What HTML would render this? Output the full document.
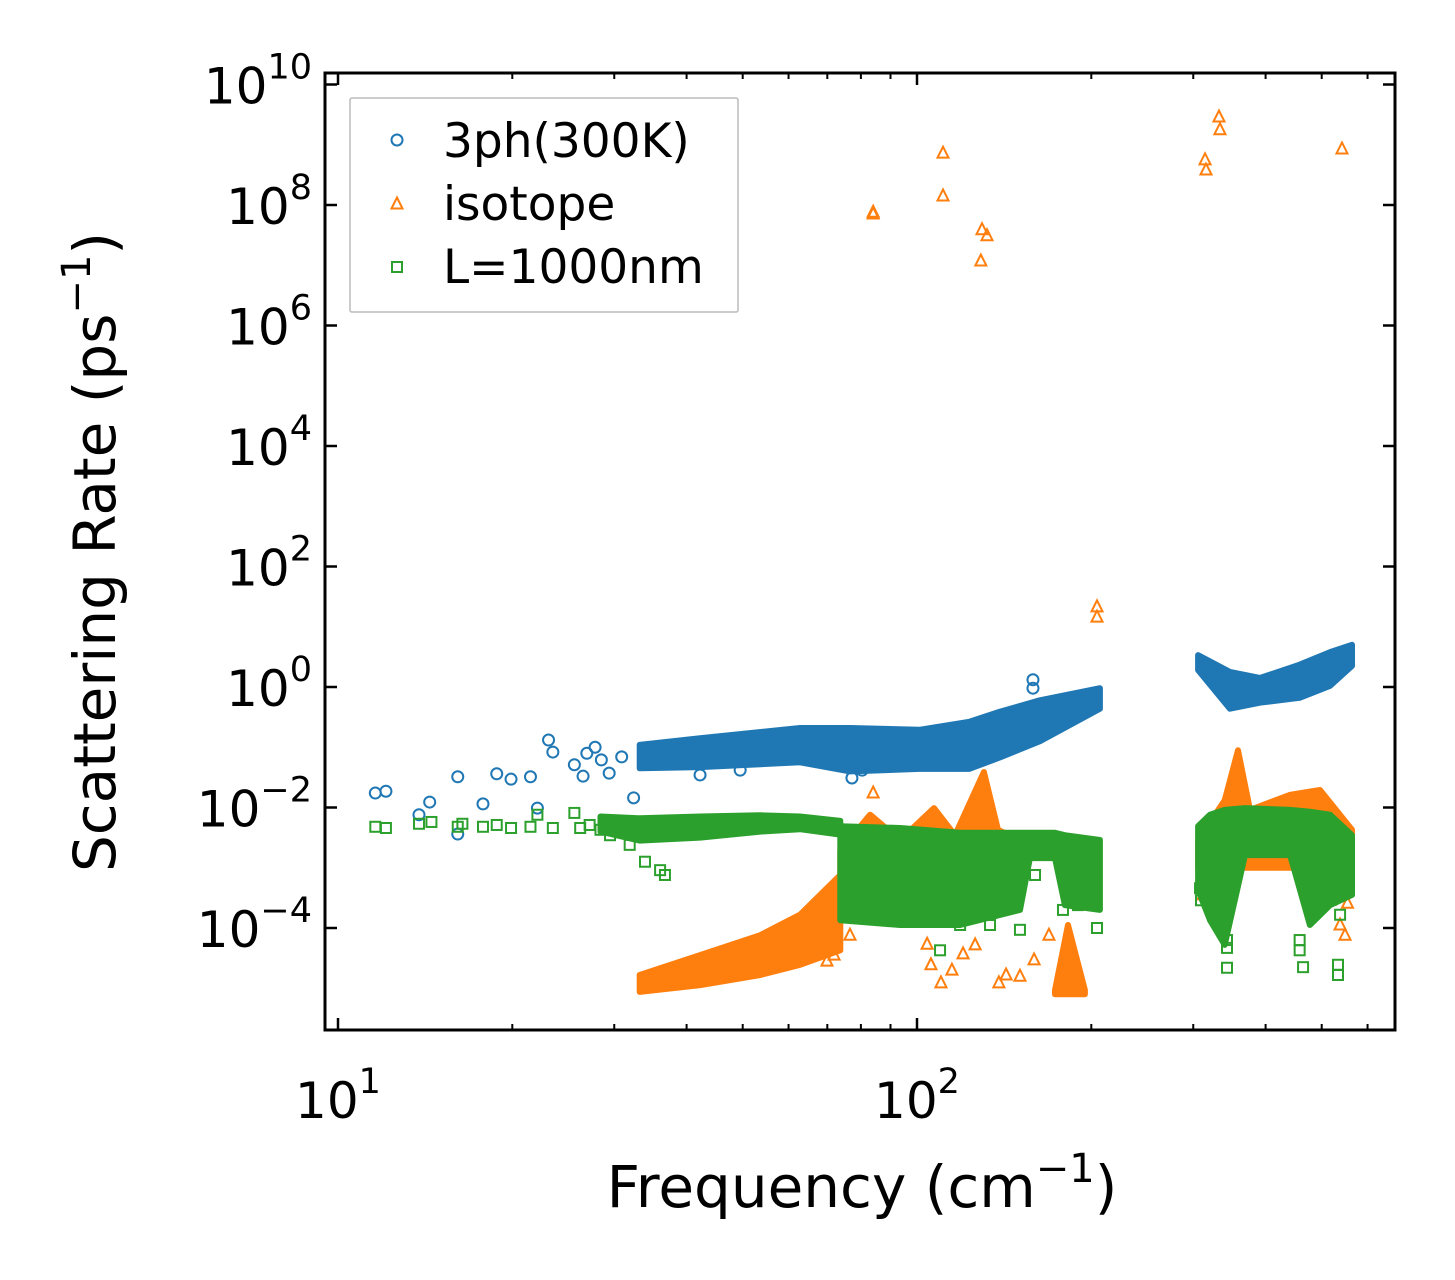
<!DOCTYPE html>
<html><head><meta charset="utf-8"><style>
html,body{margin:0;padding:0;background:#fff;}
svg{display:block;font-family:"DejaVu Sans","Liberation Sans",sans-serif;}
</style></head><body>
<svg id="chart" width="1455" height="1280" viewBox="0 0 1455 1280" xmlns="http://www.w3.org/2000/svg">
<defs><clipPath id="clip"><rect x="325" y="73" width="1070" height="957"/></clipPath></defs>
<rect x="0" y="0" width="1455" height="1280" fill="#fff"/>
<g id="marks" clip-path="url(#clip)"></g>
<g id="axes"></g>
</svg>
<script>
// ---- data (frequency in cm^-1, rates as log10(ps^-1)) ----
const blueBand1Freq=[33.2,42.2,62.8,76.6,101,123,139,163,207];
const blueBand1Hi=[-0.96,-0.85,-0.68,-0.68,-0.71,-0.58,-0.41,-0.22,-0.02];
const blueBand1Lo=[-1.35,-1.33,-1.25,-1.40,-1.36,-1.36,-1.17,-0.90,-0.36];
const blueBand2Freq=[305.8,347,391,458,517,564];
const blueBand2Hi=[0.53,0.25,0.15,0.37,0.58,0.70];
const blueBand2Lo=[0.28,-0.36,-0.26,-0.18,0.02,0.35];
const bluePtFreq=[11.6,12.1,13.8,14.4,16.1,16.1,17.8,18.8,19.9,21.5,22.1,23.1,23.5,25.6,26.5,26.9,27.8,28.5,29.4,30.9,32.4,158.6,158.6,77.2,80.4,42.2,49.5];
const bluePtRate=[-1.76,-1.73,-2.12,-1.91,-1.49,-2.44,-1.94,-1.44,-1.53,-1.49,-2.01,-0.88,-1.08,-1.29,-1.48,-1.10,-1.00,-1.21,-1.43,-1.16,-1.84,0.12,-0.02,-1.51,-1.38,-1.46,-1.38];

const orangeBandAFreq=[33.2,42.2,53.6,62.8,73.7];
const orangeBandAHi=[-4.78,-4.45,-4.12,-3.78,-3.12];
const orangeBandALo=[-5.06,-4.95,-4.78,-4.61,-4.37];
const orangeBandBFreq=[73.7,83.0,93.5,107,116.3,130.5,138,150.6];
const orangeBandBHi=[-2.71,-2.12,-2.54,-2.01,-2.46,-1.41,-2.37,-2.54];
const orangeBandBLo=[-3.3,-3.3,-3.3,-3.3,-3.3,-3.3,-3.3,-3.3];
const orangeBandCFreq=[173.1,182.3,195];
const orangeBandCHi=[-5.03,-3.95,-5.03];
const orangeBandCLo=[-5.1,-5.1,-5.1];
const orangeBandDFreq=[305.8,340,358.5,376,441,496.6,564];
const orangeBandDHi=[-2.54,-1.88,-1.05,-2.04,-1.79,-1.71,-2.37];
const orangeBandDLo=[-3.0,-3.0,-3.0,-3.0,-3.0,-3.0,-3.0];
const orangePtFreq=[84.0,84.0,110.9,110.9,129.5,132.1,128.9,204.6,204.6,314.4,315.6,332.3,333.6,542,84.0,554,69.9,71.9,76.6,83.0,94.2,97.3,104.1,105.7,110.0,114.9,120.1,126.0,138.5,142.5,150.6,159.3,169.0,144.7,88.1,118.7,311.9,537.9,548.6,517];
const orangePtRate=[7.88,7.85,8.86,8.15,7.59,7.49,7.07,1.33,1.16,8.75,8.58,9.46,9.25,8.93,-1.76,-3.59,-4.55,-4.45,-4.12,-3.78,-3.90,-3.62,-4.27,-4.61,-4.91,-4.70,-4.43,-4.28,-4.91,-4.78,-4.80,-4.53,-4.12,-3.54,-3.87,-3.45,-3.45,-3.95,-4.12,-3.54];

const greenBand0Freq=[28.4,33.2,42.2,53.6,62.8,73.7];
const greenBand0Hi=[-2.15,-2.18,-2.15,-2.13,-2.15,-2.22];
const greenBand0Lo=[-2.40,-2.55,-2.50,-2.40,-2.36,-2.45];
const greenBand1Freq=[73.7,93.5,118.7,150.6,156.7,173.1,180.1,207];
const greenBand1Hi=[-2.31,-2.34,-2.42,-2.42,-2.42,-2.42,-2.46,-2.54];
const greenBand1Lo=[-3.87,-3.95,-3.95,-3.70,-2.84,-2.84,-3.62,-3.70];
const greenBand2Freq=[305.8,320.6,340,368.6,441,477,517,564];
const greenBand2Hi=[-2.31,-2.12,-2.04,-2.01,-2.04,-2.07,-2.12,-2.46];
const greenBand2Lo=[-3.37,-3.87,-4.28,-2.79,-2.79,-3.95,-3.62,-3.45];
const greenPtFreq=[11.6,12.1,13.8,14.5,16.1,16.4,17.8,18.8,19.9,21.5,22.1,23.5,25.6,26.2,27.2,28.4,29.5,30.7,31.9,33.9,36.0,36.7,76.6,83.0,89.8,109.6,118.7,133.7,139.1,150.6,159.9,178.7,189.7,204.6,199,308.2,309.4,343.1,343.1,343.1,458,458,464.3,533.5,533.5,537.9,486.9];
const greenPtRate=[-2.32,-2.34,-2.27,-2.24,-2.32,-2.27,-2.32,-2.29,-2.34,-2.32,-2.12,-2.34,-2.09,-2.34,-2.29,-2.37,-2.46,-2.37,-2.62,-2.90,-3.04,-3.12,-3.62,-3.78,-3.73,-4.37,-3.95,-3.95,-3.54,-4.03,-3.12,-3.70,-3.62,-4.0,-3.37,-3.34,-3.54,-4.2,-4.33,-4.66,-4.2,-4.37,-4.65,-4.61,-4.78,-3.78,-3.62];

const yTickExp=[-4,-2,0,2,4,6,8,10];
const xTickExp=[1,2];
const xMinor=[20,30,40,50,60,70,80,90,200,300,400,500,600];

// ---- axis functions ----
const X=f=>338+579*(Math.log10(f)-1);
const Y=l=>687-60.25*l;
const NS='http://www.w3.org/2000/svg';
const marks=document.getElementById('marks');
const axes=document.getElementById('axes');
function mk(tag,attrs,parent){const e=document.createElementNS(NS,tag);for(const k in attrs)e.setAttribute(k,attrs[k]);parent.appendChild(e);return e;}
const C={blue:'#1f77b4',orange:'#ff7f0e',green:'#2ca02c'};

function band(fr,hi,lo,color,name){
  let pts=[];
  for(let i=0;i<fr.length;i++)pts.push(X(fr[i]).toFixed(1)+','+Y(hi[i]).toFixed(1));
  for(let i=fr.length-1;i>=0;i--)pts.push(X(fr[i]).toFixed(1)+','+Y(lo[i]).toFixed(1));
  const p=mk('polygon',{points:pts.join(' '),fill:color,stroke:color,'stroke-width':6,'stroke-linejoin':'round'},marks);
  
  
}
function circle(f,l){const e=mk('circle',{cx:X(f),cy:Y(l),r:5.5,fill:'none',stroke:C.blue,'stroke-width':2},marks);
  
  }
function tri(f,l){const x=X(f),y=Y(l);const e=mk('polygon',{points:`${x},${y-6.5} ${x-5.5},${y+4.5} ${x+5.5},${y+4.5}`,fill:'none',stroke:C.orange,'stroke-width':2},marks);
  
  }
function sq(f,l){const x=X(f),y=Y(l);const e=mk('rect',{x:x-5,y:y-5,width:10,height:10,fill:'none',stroke:C.green,'stroke-width':2},marks);
  
  }

band(blueBand1Freq,blueBand1Hi,blueBand1Lo,C.blue,'band-3ph-low');
band(blueBand2Freq,blueBand2Hi,blueBand2Lo,C.blue,'band-3ph-high');
bluePtFreq.forEach((f,i)=>circle(f,bluePtRate[i]));
band(orangeBandAFreq,orangeBandAHi,orangeBandALo,C.orange,'band-isotope-ramp');
band(orangeBandBFreq,orangeBandBHi,orangeBandBLo,C.orange,'band-isotope-mid');
band(orangeBandCFreq,orangeBandCHi,orangeBandCLo,C.orange,'band-isotope-spike');
band(orangeBandDFreq,orangeBandDHi,orangeBandDLo,C.orange,'band-isotope-high');
orangePtFreq.forEach((f,i)=>tri(f,orangePtRate[i]));
band(greenBand0Freq,greenBand0Hi,greenBand0Lo,C.green,'band-boundary-left');
band(greenBand1Freq,greenBand1Hi,greenBand1Lo,C.green,'band-boundary-mid');
band(greenBand2Freq,greenBand2Hi,greenBand2Lo,C.green,'band-boundary-high');
greenPtFreq.forEach((f,i)=>sq(f,greenPtRate[i]));

const fr=mk('rect',{x:325,y:73,width:1070,height:957,fill:'none',stroke:'#000','stroke-width':3},axes);



yTickExp.forEach(e=>{
  const y=Y(e);
  mk('line',{x1:325,x2:337,y1:y,y2:y,stroke:'#000','stroke-width':2.5},axes);
  mk('line',{x1:1383,x2:1395,y1:y,y2:y,stroke:'#000','stroke-width':2.5},axes);
  const t=mk('text',{x:312,y:y+19,'text-anchor':'end','font-size':50,fill:'#000'},axes);
  
  
  t.innerHTML='10<tspan font-size="35" dy="-25">'+(e<0?'\u2212'+(-e):e)+'</tspan>';
});
xTickExp.forEach(e=>{
  const x=X(Math.pow(10,e));
  mk('line',{x1:x,x2:x,y1:1018,y2:1030,stroke:'#000','stroke-width':2.5},axes);
  mk('line',{x1:x,x2:x,y1:73,y2:85,stroke:'#000','stroke-width':2.5},axes);
  const t=mk('text',{x:x,y:1118,'text-anchor':'middle','font-size':50,fill:'#000'},axes);
  
  
  t.innerHTML='10<tspan font-size="35" dy="-25">'+e+'</tspan>';
});
xMinor.forEach(f=>{
  const x=X(f);
  mk('line',{x1:x,x2:x,y1:1024,y2:1030,stroke:'#000','stroke-width':2},axes);
  mk('line',{x1:x,x2:x,y1:73,y2:79,stroke:'#000','stroke-width':2},axes);
});
</script>
<svg style="position:absolute;left:0;top:0" width="1455" height="1280">
<text x="862" y="1207" text-anchor="middle" font-size="58" font-family="DejaVu Sans, Liberation Sans, sans-serif">Frequency (cm<tspan font-size="40" dy="-25">−1</tspan><tspan dy="25">)</tspan></text>
<text transform="translate(115,552) rotate(-90)" text-anchor="middle" font-size="58" font-family="DejaVu Sans, Liberation Sans, sans-serif">Scattering Rate (ps<tspan font-size="40" dy="-25">−1</tspan><tspan dy="25">)</tspan></text>
<g font-family="DejaVu Sans, Liberation Sans, sans-serif" font-size="47">
<rect x="350" y="98" width="388" height="214" fill="#fff" fill-opacity="0.85" stroke="#bbb" stroke-width="1.5" rx="2"/>
<g><circle cx="397" cy="140" r="5.5" fill="none" stroke="#1f77b4" stroke-width="2"/><text x="443" y="157">3ph(300K)</text></g>
<g><polygon points="397,197.5 391.5,208.5 402.5,208.5" fill="none" stroke="#ff7f0e" stroke-width="2"/><text x="443" y="220">isotope</text></g>
<g><rect x="392" y="262" width="10" height="10" fill="none" stroke="#2ca02c" stroke-width="2"/><text x="443" y="283">L=1000nm</text></g>
</g>
</svg>
</body></html>
